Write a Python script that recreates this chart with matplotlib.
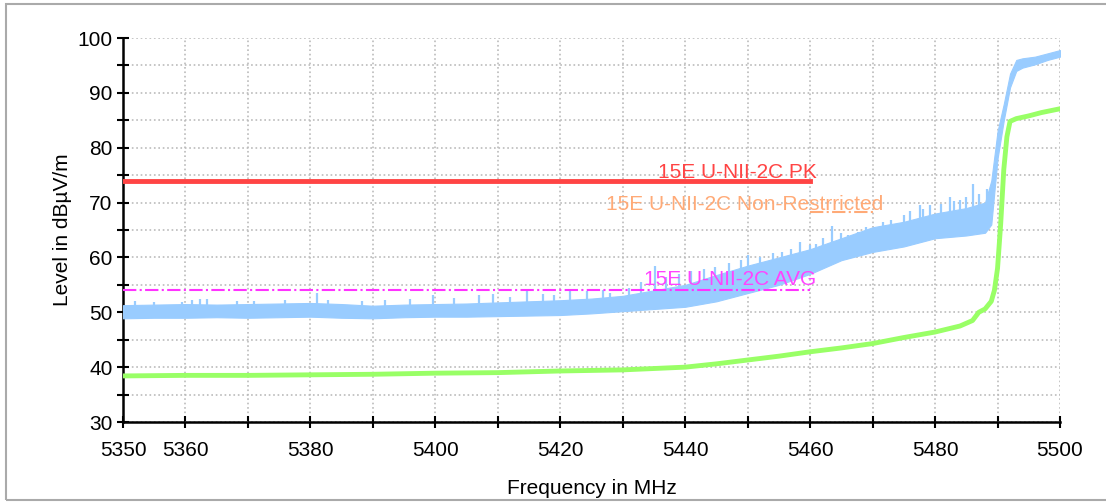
import numpy as np
import matplotlib
matplotlib.use('Agg')
import matplotlib.pyplot as plt
from matplotlib.patches import Rectangle

plt.rcParams['font.family'] = ['Liberation Sans', 'DejaVu Sans']

# peak trace (light blue): noise band
blue_freq = [5350, 5355, 5360, 5365, 5370, 5375, 5380, 5385, 5390, 5395, 5400, 5405,
             5410, 5415, 5420, 5425, 5430, 5435, 5440, 5445, 5450, 5455, 5460, 5465,
             5470, 5475, 5480, 5485, 5488, 5489, 5490, 5491, 5492, 5493, 5494, 5496,
             5498, 5500]
blue_low = [48.9, 49.0, 49.0, 49.1, 49.0, 49.1, 49.2, 49.0, 48.9, 49.1, 49.2, 49.2,
            49.3, 49.4, 49.5, 49.8, 50.2, 50.6, 51.0, 52.0, 53.5, 55.0, 57.0, 59.5,
            61.0, 62.0, 63.5, 64.0, 64.5, 66.0, 78.0, 85.0, 91.0, 94.0, 94.6, 95.2,
            96.0, 96.6]
blue_high = [51.3, 51.4, 51.5, 51.4, 51.5, 51.6, 51.7, 51.5, 51.2, 51.4, 51.5, 51.6,
             51.8, 52.0, 52.2, 52.5, 53.0, 54.0, 55.0, 56.8, 58.5, 60.0, 61.5, 63.5,
             65.5, 66.5, 68.0, 69.0, 70.0, 74.0, 83.0, 88.0, 93.5, 96.0, 96.3, 96.6,
             97.2, 97.8]
# isolated spikes on the peak trace
spike_freq = [5352, 5355, 5359.5, 5361, 5362.3, 5363.4, 5368.2, 5371, 5376, 5381,
              5382.8, 5388.3, 5392, 5396, 5399.6, 5403, 5407, 5409.2, 5412, 5414.7,
              5417.2, 5419, 5421.6, 5424.3, 5426.8, 5428, 5431, 5433, 5435.2, 5437,
              5439, 5441, 5443, 5444.8, 5447, 5449, 5450, 5452, 5454, 5455.5,
              5457, 5458.4, 5460, 5461, 5462, 5463.5, 5465, 5466, 5467.7, 5469,
              5471.7, 5473, 5475, 5476, 5477.6, 5478, 5479.2, 5481, 5482.4, 5483,
              5484, 5485, 5486, 5487, 5488.3]
spike_level = [52.0, 51.9, 51.8, 52.2, 52.5, 52.4, 52.0, 52.1, 52.3, 53.5,
               52.2, 52.0, 52.2, 52.4, 53.1, 52.6, 53.1, 53.4, 52.8, 53.9,
               53.4, 53.2, 53.9, 53.9, 54.0, 53.6, 54.5, 55.5, 58.5, 56.5,
               57.0, 57.5, 57.8, 58.2, 59.0, 59.5, 60.4, 60.0, 60.8, 61.0,
               61.5, 62.8, 62.3, 62.5, 63.5, 65.8, 64.5, 64.0, 64.6, 65.5,
               66.4, 66.8, 67.8, 68.5, 69.5, 68.8, 69.5, 69.8, 71.0, 70.2,
               70.4, 71.0, 73.3, 71.5, 72.5]

# average trace (light green)
green_freq = [5350, 5360, 5370, 5380, 5390, 5400, 5410, 5420, 5430, 5440, 5445, 5450,
              5455, 5460, 5465, 5470, 5475, 5480, 5484, 5486, 5487, 5488, 5489, 5489.5,
              5490, 5490.5, 5491, 5491.5, 5492, 5493, 5495, 5497, 5500]
green_level = [38.4, 38.5, 38.5, 38.6, 38.7, 38.9, 39.0, 39.3, 39.5, 40.0, 40.6, 41.3,
               42.0, 42.8, 43.5, 44.3, 45.4, 46.4, 47.5, 48.5, 50.0, 50.6, 52.0, 54.0,
               58.0, 66.0, 76.0, 82.0, 84.8, 85.3, 85.8, 86.4, 87.1]

# limit lines
limit_names = ['15E U-NII-2C PK', '15E U-NII-2C Non-Restrricted', '15E U-NII-2C AVG']
limit_levels = [74.0, 68.2, 54.0]
limit_start = [5350, 5460, 5350]
limit_stop = [5460, 5470, 5460]
limit_label_x = [5461.1, 5471.7, 5461.0]
limit_label_y = [74.5, 68.7, 54.9]

xticks = list(range(5350, 5501, 10))
xtick_labels = [5350, 5360, 5380, 5400, 5420, 5440, 5460, 5480, 5500]

fig = plt.figure(figsize=(11.06, 5.03), dpi=100)
fig.patches.append(Rectangle((6 / 1106, 3 / 503), 1.2, 1 - 7 / 503,
                             transform=fig.transFigure, fill=False,
                             edgecolor='#aaaaaa', lw=1.5))
ax = fig.add_axes([123 / 1106, 1 - 422 / 503, (1060 - 123) / 1106, (422 - 38) / 503])

ax.fill_between(blue_freq, blue_low, blue_high, color='#99ccff', lw=0.8,
                edgecolor='#99ccff', zorder=3)
base = np.interp(spike_freq, blue_freq, blue_low)
ax.vlines(spike_freq, base, spike_level, color='#99ccff', lw=1.6, zorder=3)
ax.plot(green_freq, green_level, color='#99ff66', lw=3.5, zorder=4)

styles = [dict(color='#ff4444', lw=3.5, ls='-'),
          dict(color='#ffaa77', lw=1.5, ls='-.'),
          dict(color='#ff33ff', lw=1.5, ls='-.')]
text_colors = ['#ff4444', '#ffaa77', '#ff44ff']
for i in range(3):
    ax.plot([limit_start[i], limit_stop[i]], [limit_levels[i]] * 2, zorder=5, **styles[i])
    ax.text(limit_label_x[i], limit_label_y[i], limit_names[i], ha='right', va='baseline',
            color=text_colors[i], fontsize=15, zorder=6)

ax.set_xlim(5350, 5500)
ax.set_ylim(30, 100)
ax.set_xticks(xticks)
ax.set_xticklabels([str(t) if t in xtick_labels else '' for t in xticks])
ax.set_yticks(range(30, 101, 10))
ax.set_yticks(range(35, 100, 10), minor=True)
ax.grid(True, which='major', axis='x', color='#bbbbbb', ls=':', lw=1.2)
ax.grid(True, which='both', axis='y', color='#bbbbbb', ls=':', lw=1.2)
ax.set_axisbelow(True)
ax.spines['top'].set_visible(False)
ax.spines['right'].set_visible(False)
ax.spines['left'].set_linewidth(1.8)
ax.spines['bottom'].set_linewidth(1.8)
ax.tick_params(axis='both', which='both', direction='inout', length=9, width=1.5,
               labelsize=15, colors='black')
ax.tick_params(axis='x', pad=9)
ax.tick_params(axis='y', pad=3)
ax.set_xlabel('Frequency in MHz', fontsize=15, labelpad=14)
ax.set_ylabel('Level in dBµV/m', fontsize=15, labelpad=4)

fig.savefig('out.png', dpi=100)
